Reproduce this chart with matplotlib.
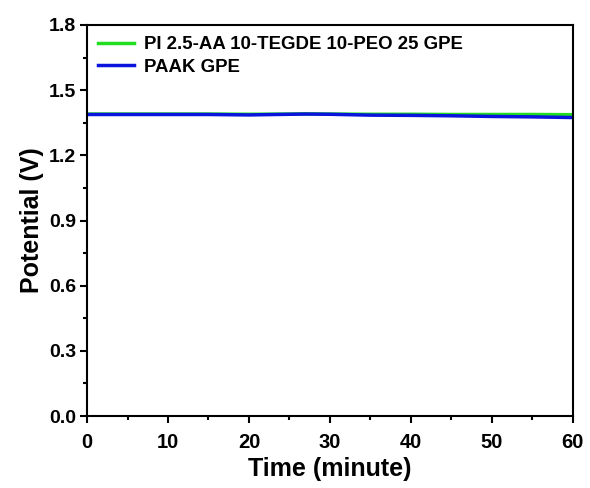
import matplotlib
matplotlib.use("Agg")
import matplotlib.pyplot as plt
from matplotlib.ticker import MultipleLocator

plt.rcParams['font.family'] = ['Liberation Sans', 'DejaVu Sans']
plt.rcParams['font.weight'] = 'bold'

time_min = [0, 5, 10, 15, 20, 25, 27, 30, 35, 40, 45, 50, 55, 60]
pi_gpe = [1.390, 1.390, 1.390, 1.390, 1.389, 1.390, 1.391, 1.390, 1.389, 1.389, 1.388, 1.388, 1.388, 1.387]
paak_gpe = [1.388, 1.388, 1.388, 1.388, 1.386, 1.389, 1.390, 1.389, 1.385, 1.384, 1.382, 1.379, 1.377, 1.374]

labels = ['PI 2.5-AA 10-TEGDE 10-PEO 25 GPE', 'PAAK GPE']

fig = plt.figure(figsize=(5.9, 4.88), dpi=100)
ax = fig.add_axes([0.1475, 0.1475, 0.8235, 0.8013])
ax.plot(time_min, pi_gpe, color='#22dd22', lw=2.5, label=labels[0])
ax.plot(time_min, paak_gpe, color='#0a14dc', lw=2.5, label=labels[1])

ax.set_xlim(0, 60)
ax.set_ylim(0, 1.8)
ax.xaxis.set_major_locator(MultipleLocator(10))
ax.xaxis.set_minor_locator(MultipleLocator(5))
ax.yaxis.set_major_locator(MultipleLocator(0.3))
ax.yaxis.set_minor_locator(MultipleLocator(0.15))
ax.yaxis.set_major_formatter(matplotlib.ticker.FormatStrFormatter('%.1f'))
ax.tick_params(which='major', direction='out', length=5, width=1.5, labelsize=14, pad=3)
ax.tick_params(axis='x', which='major', labelsize=14.5, pad=7)
ax.tick_params(which='minor', direction='out', length=3, width=1.5)
for s in ax.spines.values():
    s.set_linewidth(1.5)

ax.set_xlabel('Time (minute)', fontsize=18, fontweight='bold', labelpad=3.5)
ax.set_ylabel('Potential (V)', fontsize=18, fontweight='bold', labelpad=3)

leg = ax.legend(loc='upper left', frameon=False, fontsize=13.4, handlelength=1.95,
                borderaxespad=0.3, handletextpad=0.5, labelspacing=0.3,
                borderpad=0.3)

fig.savefig('out.png', dpi=100)
